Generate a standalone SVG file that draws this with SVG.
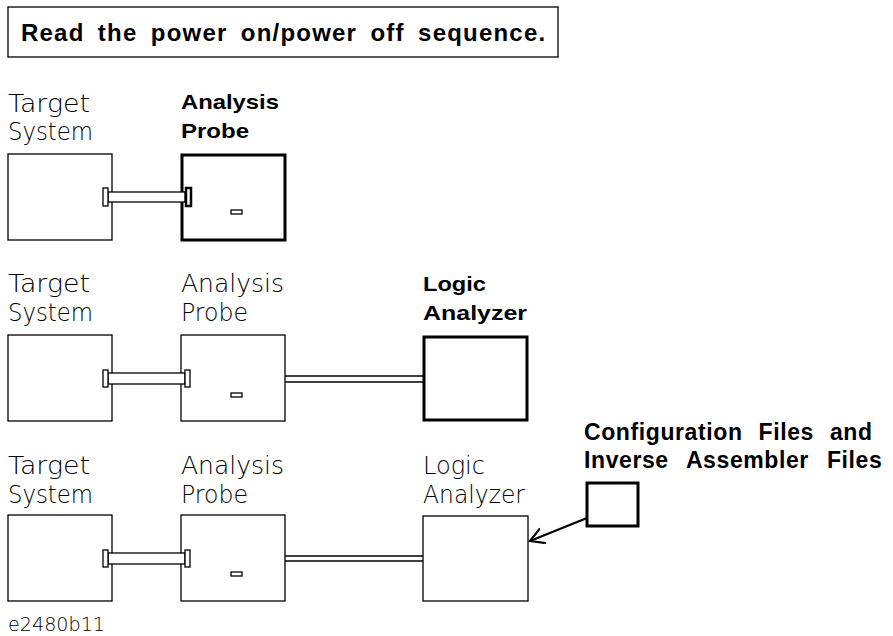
<svg xmlns="http://www.w3.org/2000/svg" width="893" height="636" viewBox="0 0 893 636">
<style>
  .thin { fill: none; stroke: #000; stroke-width: 1.3; }
  .bold { fill: none; stroke: #000; stroke-width: 3; }
  .flange { fill: #fff; stroke: #000; stroke-width: 1.3; }
  .flangeb { fill: #fff; stroke: #000; stroke-width: 2.5; }
  .cable { stroke: #000; stroke-width: 1.5; fill: none; }
  .lt { font-family: "DejaVu Sans", "Liberation Sans", sans-serif; font-weight: 200; font-size: 25px; fill: #000; }
  .bt { font-family: "Liberation Sans", Arial, sans-serif; font-weight: bold; font-size: 21px; fill: #000; }
  .wide { font-size: 23px; letter-spacing: 0.6px; }
  .ttl { font-size: 24px; letter-spacing: 1.2px; word-spacing: 5.5px; }
  .code { font-size: 20px; }
</style>
<defs>
  <marker id="arrow" viewBox="-14 -9 16 18" refX="0" refY="0" markerWidth="16" markerHeight="18" markerUnits="userSpaceOnUse" orient="auto">
    <path d="M-14,-8 L0,0 L-14,8" fill="none" stroke="#000" stroke-width="2.2"/>
  </marker>
</defs>
<rect width="893" height="636" fill="#fff"/>

<g id="title">
  <rect x="8" y="7" width="550" height="50" class="thin"/>
  <text x="21" y="41" class="bt ttl">Read the power on/power off sequence.</text>
</g>

<!-- Row 1 -->
<g id="target1">
  <text x="8" y="112" class="lt" textLength="82" lengthAdjust="spacingAndGlyphs">Target</text>
  <text x="8" y="140" class="lt" textLength="85" lengthAdjust="spacingAndGlyphs">System</text>
  <rect x="8" y="154" width="104" height="86" class="thin"/>
</g>
<g id="probe1">
  <text x="181" y="109" class="bt" textLength="98" lengthAdjust="spacingAndGlyphs">Analysis</text>
  <text x="181" y="138" class="bt" textLength="68" lengthAdjust="spacingAndGlyphs">Probe</text>
  <rect x="182" y="155" width="103" height="85" class="bold"/>
  <rect x="231" y="210" width="11" height="4" class="flange"/>
</g>

<!-- Row 2 -->
<g id="target2">
  <text x="8" y="292" class="lt" textLength="82" lengthAdjust="spacingAndGlyphs">Target</text>
  <text x="8" y="321" class="lt" textLength="85" lengthAdjust="spacingAndGlyphs">System</text>
  <rect x="8" y="335" width="104" height="86" class="thin"/>
</g>
<g id="probe2">
  <text x="181" y="292" class="lt" textLength="103" lengthAdjust="spacingAndGlyphs">Analysis</text>
  <text x="181" y="321" class="lt" textLength="67" lengthAdjust="spacingAndGlyphs">Probe</text>
  <rect x="181" y="335" width="104" height="86" class="thin"/>
  <rect x="231" y="393" width="11" height="4" class="flange"/>
</g>
<g id="analyzer2">
  <text x="423" y="291" class="bt" textLength="63" lengthAdjust="spacingAndGlyphs">Logic</text>
  <text x="423" y="320" class="bt" textLength="104" lengthAdjust="spacingAndGlyphs">Analyzer</text>
  <rect x="424" y="337" width="103" height="83" class="bold"/>
</g>

<!-- Row 3 -->
<g id="target3">
  <text x="8" y="474" class="lt" textLength="82" lengthAdjust="spacingAndGlyphs">Target</text>
  <text x="8" y="503" class="lt" textLength="85" lengthAdjust="spacingAndGlyphs">System</text>
  <rect x="8" y="515" width="104" height="86" class="thin"/>
</g>
<g id="probe3">
  <text x="181" y="474" class="lt" textLength="103" lengthAdjust="spacingAndGlyphs">Analysis</text>
  <text x="181" y="503" class="lt" textLength="67" lengthAdjust="spacingAndGlyphs">Probe</text>
  <rect x="181" y="515" width="104" height="86" class="thin"/>
  <rect x="231" y="572" width="11" height="4" class="flange"/>
</g>
<g id="analyzer3">
  <text x="423" y="474" class="lt" textLength="62" lengthAdjust="spacingAndGlyphs">Logic</text>
  <text x="423" y="503" class="lt" textLength="102" lengthAdjust="spacingAndGlyphs">Analyzer</text>
  <rect x="423" y="516" width="105" height="85" class="thin"/>
</g>
<g id="files">
  <text x="584" y="440" class="bt wide" word-spacing="9">Configuration Files and</text>
  <text x="584" y="468" class="bt wide" word-spacing="11">Inverse Assembler Files</text>
  <rect x="587" y="483" width="51" height="43" class="bold"/>
</g>

<g id="connectors">
  <!-- row 1 cable -->
  <rect x="108" y="192" width="77" height="10" class="flange"/>
  <rect x="103" y="188" width="5" height="18" class="flange"/>
  <rect x="186" y="188" width="5" height="18" class="flangeb"/>
  <!-- row 2 cable -->
  <rect x="108" y="373" width="77" height="11" class="flange"/>
  <rect x="103" y="370" width="5" height="17" class="flange"/>
  <rect x="185" y="370" width="5" height="17" class="flange"/>
  <line x1="285" y1="376" x2="424" y2="376" class="cable"/>
  <line x1="285" y1="382" x2="424" y2="382" class="cable"/>
  <!-- row 3 cable -->
  <rect x="108" y="553" width="77" height="11" class="flange"/>
  <rect x="103" y="550" width="5" height="17" class="flange"/>
  <rect x="185" y="550" width="5" height="17" class="flange"/>
  <line x1="285" y1="556" x2="423" y2="556" class="cable"/>
  <line x1="285" y1="561" x2="423" y2="561" class="cable"/>
  <!-- arrow from files to analyzer -->
  <line x1="587" y1="518" x2="530" y2="541" stroke="#000" stroke-width="2.2" marker-end="url(#arrow)"/>
</g>

<text x="8" y="631" class="lt code" textLength="97" lengthAdjust="spacingAndGlyphs">e2480b11</text>
</svg>
